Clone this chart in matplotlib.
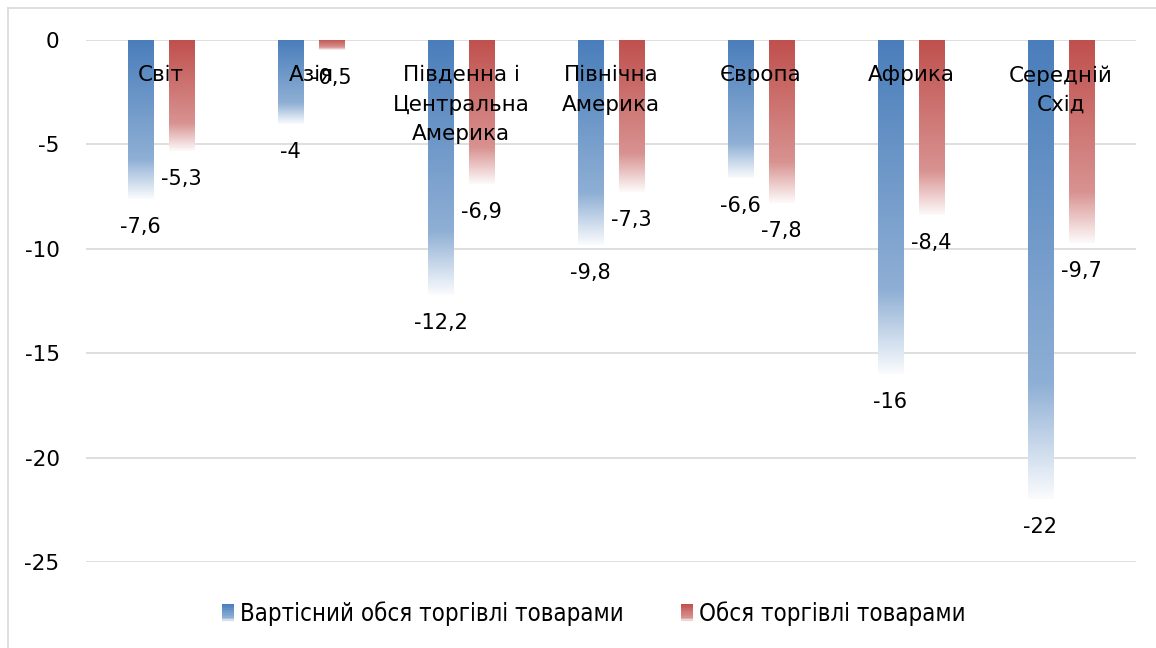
import matplotlib
matplotlib.use("Agg")
import matplotlib.pyplot as plt
import numpy as np
from matplotlib.colors import to_rgb
from matplotlib.legend_handler import HandlerBase
from matplotlib.patches import Patch, Rectangle
from matplotlib.lines import Line2D

plt.rcParams["font.family"] = ["DejaVu Sans"]

# Data
regions = ["Світ", "Азія", "Південна і\nЦентральна\nАмерика", "Північна\nАмерика",
           "Європа", "Африка", "Середній\nСхід"]
value_trade = [-7.6, -4, -12.2, -9.8, -6.6, -16, -22]
volume_trade = [-5.3, -0.5, -6.9, -7.3, -7.8, -8.4, -9.7]
series_names = ["Вартісний обся торгівлі товарами", "Обся торгівлі товарами"]
colors = ["#4a7ebb", "#c0504d"]


def fade(base, n=200):
    # solid at top, lighter in the middle, almost white at the bottom
    base = np.array(to_rgb(base))
    t = np.linspace(0, 1, n)
    w = np.where(t < 0.75, 0.38 * t / 0.75, 0.38 + 0.59 * (t - 0.75) / 0.25)
    return base[None, :] * (1 - w[:, None]) + w[:, None]


fig = plt.figure(figsize=(11.56, 6.48), dpi=100)
ax = fig.add_axes([86 / 1156, 1 - 562 / 648, 1050 / 1156, 522 / 648])

x = np.arange(len(regions))
width = 0.167
offset = 0.137

for vals, col, sign in [(value_trade, colors[0], -1), (volume_trade, colors[1], 1)]:
    grad = fade(col)[:, None, :]
    for xi, v in zip(x, vals):
        xc = xi + sign * offset
        ax.imshow(grad, extent=[xc - width / 2, xc + width / 2, v, 0],
                  aspect="auto", origin="upper", zorder=2, interpolation="bilinear")
        ax.annotate(f"{v:g}".replace(".", ","), (xc, v), xytext=(0, -13),
                    textcoords="offset points", ha="center", va="top",
                    fontsize=15, zorder=4)

for xi, name in zip(x, regions):
    ax.annotate(name, (xi, 0), xytext=(0, -18), textcoords="offset points",
                ha="center", va="top", fontsize=15.5, linespacing=1.6, zorder=5)

ax.set_xlim(-0.5, len(regions) - 0.5)
ax.set_ylim(-25, 0)
ax.set_yticks([0, -5, -10, -15, -20, -25])
ax.set_yticklabels(["0", "-5", "-10", "-15", "-20", "-25"], fontsize=15.5)
ax.set_xticks([])
ax.tick_params(axis="y", length=0, pad=19)
ax.grid(axis="y", color="#d9d9d9", linewidth=1.2, zorder=0)
ax.set_axisbelow(True)
for s in ax.spines.values():
    s.set_visible(False)


class GradHandler(HandlerBase):
    def create_artists(self, legend, orig_handle, xdescent, ydescent, width, height, fontsize, trans):
        cols = fade(orig_handle.get_facecolor()[:3], n=12)
        h = height / len(cols)
        arts = []
        for i, c in enumerate(cols):
            r = Rectangle((-xdescent, -ydescent + height - (i + 1) * h), width, h * 1.05,
                          facecolor=c, edgecolor="none", transform=trans)
            arts.append(r)
        return arts


handles = [Patch(facecolor=c) for c in colors]
fig.legend(handles, series_names, loc="center", bbox_to_anchor=(0.514, 1 - 614 / 648),
           ncol=2, frameon=False, handlelength=0.5, handleheight=0.8,
           handletextpad=0.25, columnspacing=2.4,
           prop={"family": "DejaVu Sans", "stretch": "condensed", "size": 17.2},
           handler_map={Patch: GradHandler()})

# outer chart border (top and left visible)
fig.add_artist(Line2D([8 / 1156, 1], [1 - 8 / 648, 1 - 8 / 648], color="#d9d9d9", lw=1.2))
fig.add_artist(Line2D([8 / 1156, 8 / 1156], [0, 1 - 8 / 648], color="#d9d9d9", lw=1.2))

fig.savefig("out.png", dpi=100)
